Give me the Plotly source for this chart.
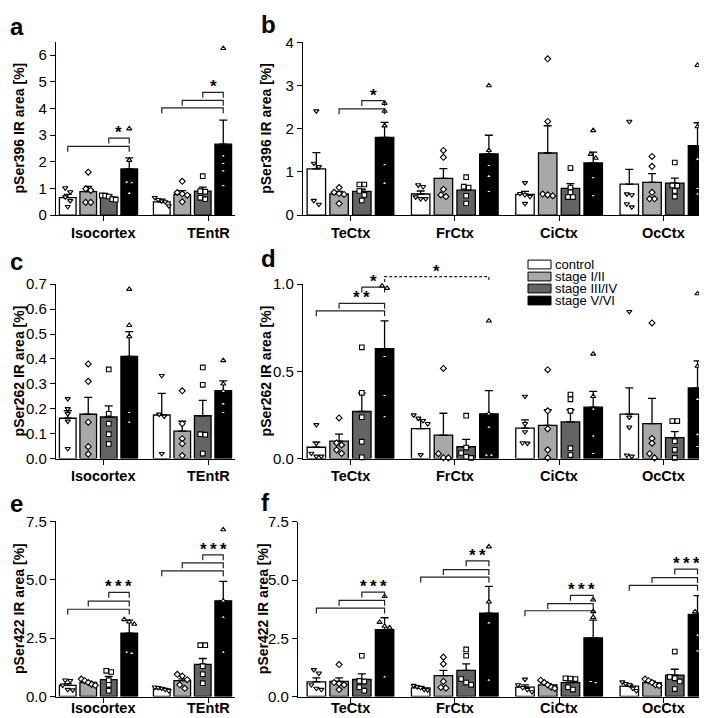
import plotly.graph_objects as go

W, H = 707, 718
FONT = "Liberation Sans, Arial, Helvetica, sans-serif"

# ---------------- data ----------------
SERIES = ["control", "stage I/II", "stage III/IV", "stage V/VI"]
LEFT_GROUPS = ["Isocortex", "TEntR"]
RIGHT_GROUPS = ["TeCtx", "FrCtx", "CiCtx", "OcCtx"]

# panel a: pSer396, Isocortex / TEntR   (rows = series, cols = groups)
A_MEAN = [[0.66, 0.50], [0.88, 0.78], [0.68, 0.90], [1.73, 2.66]]
A_SEM = [[0.12, 0.10], [0.20, 0.14], [0.08, 0.15], [0.42, 0.90]]
A_PTS = [
    [[1.02, 0.87, 0.68, 0.54, 0.32], [0.66, 0.58, 0.53, 0.50, 0.35]],
    [[1.61, 0.99, 0.93, 0.48, 0.48], [1.27, 0.85, 0.80, 0.75, 0.50]],
    [[0.74, 0.73, 0.70, 0.60, 0.58], [1.46, 0.90, 0.88, 0.65, 0.60]],
    [[3.24, 2.06, 1.24, 1.22, 0.82], [6.25, 2.22, 1.94, 1.66, 1.11]],
]
# brackets: (group_from, series_from, group_to, series_to, level, label, dashed)
A_BR = [(0, 0, 0, 3, 2.58, "", False), (0, 2, 0, 3, 2.89, "*", False),
        (1, 0, 1, 3, 4.02, "", False), (1, 1, 1, 3, 4.30, "", False),
        (1, 2, 1, 3, 4.60, "*", False)]

# panel b: pSer396, cortical regions
B_MEAN = [[1.07, 0.49, 0.48, 0.72], [0.49, 0.85, 1.44, 0.76],
          [0.55, 0.58, 0.62, 0.74], [1.80, 1.42, 1.21, 1.61]]
B_SEM = [[0.38, 0.07, 0.07, 0.34], [0.06, 0.23, 0.63, 0.20],
         [0.05, 0.10, 0.11, 0.12], [0.35, 0.43, 0.25, 0.53]]
B_PTS = [
    [[2.41, 1.20, 1.12, 0.34, 0.25], [0.70, 0.66, 0.42, 0.38, 0.38],
     [0.75, 0.50, 0.47, 0.43, 0.27], [2.17, 0.49, 0.47, 0.26, 0.19]],
    [[0.64, 0.53, 0.50, 0.48, 0.27], [1.50, 1.34, 0.60, 0.47, 0.43],
     [3.62, 2.17, 0.49, 0.47, 0.45], [1.36, 1.13, 0.53, 0.38, 0.38]],
    [[0.71, 0.71, 0.56, 0.47, 0.34], [0.88, 0.66, 0.64, 0.45, 0.27],
     [1.09, 0.64, 0.53, 0.42, 0.42], [1.22, 0.69, 0.68, 0.56, 0.43]],
    [[2.59, 2.41, 2.07, 1.17, 0.74], [3.00, 1.50, 1.15, 0.90, 0.55],
     [1.96, 1.41, 1.32, 0.87, 0.45], [3.47, 2.05, 1.30, 0.62, 0.49]],
]
B_BR = [(0, 1, 0, 3, 2.46, "", False), (0, 2, 0, 3, 2.65, "*", False)]

# panel c: pSer262, Isocortex / TEntR
C_MEAN = [[0.162, 0.175], [0.178, 0.110], [0.167, 0.172], [0.410, 0.273]]
C_SEM = [[0.030, 0.087], [0.068, 0.040], [0.045, 0.062], [0.100, 0.039]]
C_PTS = [
    [[0.24, 0.20, 0.18, 0.15, 0.04], [0.333, 0.178, 0.17, 0.02]],
    [[0.38, 0.31, 0.146, 0.048, 0.018], [0.272, 0.14, 0.08, 0.06, 0.012]],
    [[0.358, 0.18, 0.14, 0.098, 0.059], [0.366, 0.296, 0.098, 0.096, 0.02]],
    [[0.68, 0.535, 0.49, 0.185, 0.146], [0.394, 0.30, 0.27, 0.22, 0.185]],
]
C_BR = []

# panel d: pSer262, cortical regions
D_MEAN = [[0.065, 0.172, 0.175, 0.255], [0.100, 0.135, 0.190, 0.200],
          [0.270, 0.068, 0.210, 0.120], [0.630, 0.257, 0.295, 0.405]]
D_SEM = [[0.030, 0.050, 0.047, 0.150], [0.040, 0.125, 0.090, 0.145],
         [0.105, 0.042, 0.070, 0.035], [0.160, 0.133, 0.090, 0.155]]
D_PTS = [
    [[0.194, 0.088, 0.03, 0.013, 0.013], [0.25, 0.231, 0.218, 0.20, 0.022],
     [0.357, 0.20, 0.153, 0.09, 0.088], [0.843, 0.237, 0.18, 0.02, 0.013]],
    [[0.233, 0.09, 0.078, 0.05, 0.03], [0.517, 0.028, 0.005, 0.004],
     [0.51, 0.274, 0.17, 0.05, 0.004], [0.778, 0.115, 0.088, 0.028, 0.004]],
    [[0.638, 0.377, 0.237, 0.097, 0.007], [0.246, 0.063, 0.032, 0.01, 0.004],
     [0.367, 0.34, 0.274, 0.06, 0.02], [0.215, 0.215, 0.10, 0.05, 0.004]],
    [[0.99, 0.977, 0.586, 0.362, 0.24], [0.79, 0.256, 0.18, 0.02, 0.02],
     [0.60, 0.357, 0.283, 0.13, 0.03], [0.946, 0.53, 0.34, 0.138, 0.07]],
]
D_BR = [(0, 0, 0, 3, 0.847, "", False), (0, 1, 0, 3, 0.890, "**", False),
        (0, 2, 0, 3, 0.983, "*", False), (0, 3, 1, 3, 1.043, "*", True)]

# panel e: pSer422, Isocortex / TEntR
E_MEAN = [[0.48, 0.33], [0.60, 0.68], [0.72, 1.38], [2.72, 4.10]]
E_SEM = [[0.07, 0.04], [0.06, 0.08], [0.14, 0.25], [0.55, 0.83]]
E_PTS = [
    [[0.70, 0.68, 0.48, 0.30, 0.28], [0.40, 0.38, 0.35, 0.30, 0.25]],
    [[0.75, 0.68, 0.60, 0.52, 0.48], [0.95, 0.88, 0.72, 0.50, 0.35]],
    [[1.10, 1.05, 0.70, 0.50, 0.25], [2.20, 2.20, 1.30, 0.95, 0.57]],
    [[3.30, 3.20, 3.10, 1.90, 1.85], [7.15, 4.10, 3.40, 1.90]],
]
E_BR = [(0, 0, 0, 3, 3.74, "", False), (0, 1, 0, 3, 4.09, "", False),
        (0, 2, 0, 3, 4.46, "***", False),
        (1, 0, 1, 3, 5.38, "", False), (1, 1, 1, 3, 5.73, "", False),
        (1, 2, 1, 3, 6.07, "***", False)]

# panel f: pSer422, cortical regions
F_MEAN = [[0.63, 0.37, 0.40, 0.45], [0.65, 0.90, 0.50, 0.60],
          [0.73, 1.12, 0.60, 0.92], [2.87, 3.58, 2.52, 3.52]]
F_SEM = [[0.17, 0.06, 0.10, 0.07], [0.15, 0.22, 0.05, 0.06],
         [0.24, 0.28, 0.07, 0.25], [0.51, 1.15, 0.76, 0.81]]
F_PTS = [
    [[1.15, 1.00, 0.50, 0.35, 0.30], [0.47, 0.42, 0.38, 0.30, 0.28],
     [0.74, 0.50, 0.38, 0.30, 0.20], [0.62, 0.55, 0.50, 0.35, 0.25]],
    [[1.37, 0.60, 0.55, 0.50, 0.30], [1.69, 1.40, 0.65, 0.39, 0.36],
     [0.70, 0.60, 0.50, 0.40, 0.35], [0.75, 0.68, 0.60, 0.50, 0.47]],
    [[1.75, 0.67, 0.64, 0.40, 0.25], [2.02, 1.75, 0.75, 0.60, 0.50],
     [0.78, 0.77, 0.75, 0.40, 0.30], [1.93, 0.84, 0.78, 0.65, 0.32]],
    [[4.30, 3.19, 3.02, 2.95, 0.84], [6.43, 4.06, 3.16, 0.70],
     [4.15, 3.65, 3.40, 0.65, 0.60], [3.64, 3.55, 2.63, 1.96]],
]
F_BR = [(0, 0, 0, 3, 3.79, "", False), (0, 1, 0, 3, 4.13, "", False),
        (0, 2, 0, 3, 4.48, "***", False),
        (1, 0, 1, 3, 5.12, "", False), (1, 1, 1, 3, 5.45, "", False),
        (1, 2, 1, 3, 5.82, "**", False),
        (2, 0, 2, 3, 3.68, "", False), (2, 1, 2, 3, 3.99, "", False),
        (2, 2, 2, 3, 4.34, "***", False),
        (3, 0, 3, 3, 4.77, "", False), (3, 1, 3, 3, 5.10, "", False),
        (3, 2, 3, 3, 5.47, "***", False)]

Y_TITLES = ["pSer396 IR area [%]", "pSer262 IR area [%]", "pSer422 IR area [%]"]

# ---------------- styles ----------------
FILLS = ["#ffffff", "#a8a8a8", "#646464", "#000000"]
SYMBOLS = ["triangle-down", "diamond", "square", "triangle-up"]
SLOT = 0.218
BAR_W = 0.177
LEFT_TICK_SHIFT = [0.053, 0.165]
LINE_W = 1.3

PANELS = [
    dict(letter="a", groups=LEFT_GROUPS, mean=A_MEAN, sem=A_SEM, pts=A_PTS, br=A_BR,
         title=Y_TITLES[0], px=(48, 227, 25.3, 203), xr=(-0.452, 1.452), ymax=6.5,
         dtick=1, fmt="d", tx=11, lx=0, ly=20, lab_dy=8),
    dict(letter="b", groups=RIGHT_GROUPS, mean=B_MEAN, sem=B_SEM, pts=B_PTS, br=B_BR,
         title=Y_TITLES[0], px=(295, 706, 26, 203), xr=(-0.455, 3.485), ymax=4,
         dtick=1, fmt="d", tx=258, lx=251, ly=18, lab_dy=8),
    dict(letter="c", groups=LEFT_GROUPS, mean=C_MEAN, sem=C_SEM, pts=C_PTS, br=C_BR,
         title=Y_TITLES[1], px=(48, 227, 273.7, 452.3), xr=(-0.452, 1.452), ymax=0.7,
         dtick=0.1, fmt=".1f", tx=11, lx=0, ly=260, lab_dy=8),
    dict(letter="d", groups=RIGHT_GROUPS, mean=D_MEAN, sem=D_SEM, pts=D_PTS, br=D_BR,
         title=Y_TITLES[1], px=(295, 706, 273.7, 452.3), xr=(-0.455, 3.485), ymax=1.0,
         dtick=0.5, fmt=".1f", tx=258, lx=251, ly=257, lab_dy=8),
    dict(letter="e", groups=LEFT_GROUPS, mean=E_MEAN, sem=E_SEM, pts=E_PTS, br=E_BR,
         title=Y_TITLES[2], px=(48, 227, 516.7, 696), xr=(-0.452, 1.452), ymax=7.5,
         dtick=2.5, fmt=".1f", tx=11, lx=0, ly=508, lab_dy=None),
    dict(letter="f", groups=RIGHT_GROUPS, mean=F_MEAN, sem=F_SEM, pts=F_PTS, br=F_BR,
         title=Y_TITLES[2], px=(290, 706, 517, 696), xr=(-0.503, 3.485), ymax=7.5,
         dtick=2.5, fmt=".1f", tx=255, lx=251, ly=507, lab_dy=None),
]


def spread(values, px_per_y, px_per_x, min_sep=4.5, step_px=5.0, max_span=14.0):
    order = sorted(range(len(values)), key=lambda j: -values[j])
    clusters, cur = [], [order[0]]
    for j in order[1:]:
        if (values[cur[-1]] - values[j]) * px_per_y < min_sep:
            cur.append(j)
        else:
            clusters.append(cur)
            cur = [j]
    clusters.append(cur)
    offs = [0.0] * len(values)
    for c in clusters:
        k = len(c)
        step = min(step_px, max_span / (k - 1)) if k > 1 else 0
        for n, j in enumerate(c):
            offs[j] = (n - (k - 1) / 2) * step / px_per_x
    return offs


fig = go.Figure()
layout = dict(width=W, height=H, margin=dict(l=0, r=0, t=0, b=0),
              paper_bgcolor="white", plot_bgcolor="white", showlegend=False,
              barmode="overlay", font=dict(family=FONT, color="black"))
shapes, annotations = [], []

for k, P in enumerate(PANELS):
    i = k + 1
    xa, ya = ("x", "y") if i == 1 else (f"x{i}", f"y{i}")
    x0, x1, yt, yb = P["px"]
    xr0, xr1 = P["xr"]
    ppx = (x1 - x0) / (xr1 - xr0)
    ppy = (yb - yt) / P["ymax"]
    ng = len(P["groups"])

    def cx(g, s):
        return g + (s - 1.5) * SLOT

    for s in range(4):
        fig.add_trace(go.Bar(
            x=[cx(g, s) for g in range(ng)], y=P["mean"][s], width=BAR_W,
            xaxis=xa, yaxis=ya, name=SERIES[s],
            marker=dict(color=FILLS[s], line=dict(color="black", width=LINE_W)),
            error_y=dict(type="data", symmetric=False, array=P["sem"][s],
                         arrayminus=[0] * ng, color="black", thickness=LINE_W, width=4),
        ))
    for s in range(4):
        xs, ys = [], []
        for g in range(ng):
            vals = P["pts"][s][g]
            offs = spread(vals, ppy, ppx)
            xs += [cx(g, s) + o for o in offs]
            ys += vals
        fig.add_trace(go.Scatter(
            x=xs, y=ys, mode="markers", xaxis=xa, yaxis=ya, cliponaxis=False,
            marker=dict(symbol=SYMBOLS[s], size=4.6, color="white",
                        line=dict(color="black", width=1.1)),
        ))

    if ng == 2:
        tickvals = [g + LEFT_TICK_SHIFT[g] for g in range(ng)]
    else:
        tickvals = list(range(ng))
    layout["xaxis" if i == 1 else f"xaxis{i}"] = dict(
        domain=[x0 / W, x1 / W], range=[xr0, xr1], anchor=ya,
        showline=True, linecolor="black", linewidth=LINE_W,
        ticks="outside", ticklen=5, tickwidth=LINE_W, tickcolor="black",
        tickvals=tickvals, showticklabels=False, showgrid=False, zeroline=False,
        fixedrange=True)
    layout["yaxis" if i == 1 else f"yaxis{i}"] = dict(
        domain=[1 - yb / H, 1 - yt / H], range=[0, P["ymax"]], anchor=xa,
        showline=True, linecolor="black", linewidth=LINE_W,
        ticks="outside", ticklen=5, tickwidth=LINE_W, tickcolor="black",
        dtick=P["dtick"], tick0=0, tickformat=P["fmt"],
        tickfont=dict(size=15, family=FONT), showgrid=False, zeroline=False,
        fixedrange=True)

    # category labels
    for g, name in enumerate(P["groups"]):
        if P["lab_dy"] is None:
            annotations.append(dict(
                xref=xa, yref="paper", x=tickvals[g], y=0, text=f"<b>{name}</b>",
                showarrow=False, xanchor="center", yanchor="bottom",
                font=dict(size=14.5, family=FONT)))
        else:
            annotations.append(dict(
                xref=xa, yref="paper", x=tickvals[g], y=1 - (yb + P["lab_dy"]) / H,
                text=f"<b>{name}</b>", showarrow=False, xanchor="center",
                yanchor="top", font=dict(size=14.5, family=FONT)))

    # axis title
    annotations.append(dict(
        xref="paper", yref="paper", x=P["tx"] / W, y=1 - (yt + yb) / 2 / H,
        text=f"<b>{P['title']}</b>", textangle=-90, showarrow=False,
        font=dict(size=14, family=FONT), xanchor="center", yanchor="middle"))
    # panel letter
    annotations.append(dict(
        xref="paper", yref="paper", x=P["lx"] / W, y=1 - (P["ly"] + 6) / H,
        text=f"<b>{P['letter']}</b>", showarrow=False,
        font=dict(size=24, family=FONT), xanchor="left", yanchor="bottom"))

    # significance brackets
    tick = 5.5 / (yb - yt)
    for (g0, s0, g1, s1, lev, lab, dashed) in P["br"]:
        xa0, xa1 = cx(g0, s0), cx(g1, s1)
        yl = lev / P["ymax"]
        path = f"M {xa0},{yl - tick} L {xa0},{yl} L {xa1},{yl} L {xa1},{yl - tick}"
        shapes.append(dict(
            type="path", path=path, xref=xa, yref=f"{ya} domain",
            line=dict(color="#222222", width=1.2, dash="3px,2px" if dashed else "solid")))
        if lab:
            annotations.append(dict(
                xref=xa, yref=f"{ya} domain", x=(xa0 + xa1) / 2, y=yl,
                text="<b>" + "\u2009".join(lab) + "</b>", showarrow=False,
                font=dict(size=17, family=FONT), xanchor="center", yanchor="bottom",
                yshift=-6))

# legend (drawn inside panel d)
LEG_X, LEG_Y, LEG_DY = 520, 253.5, 12.3
for s, name in enumerate(SERIES):
    yc = LEG_Y + s * LEG_DY
    shapes.append(dict(type="rect", xref="paper", yref="paper",
                       x0=LEG_X / W, x1=(LEG_X + 23) / W,
                       y0=1 - (yc + 4.5) / H, y1=1 - (yc - 4.5) / H,
                       fillcolor=FILLS[s], line=dict(color="black", width=1)))
    annotations.append(dict(xref="paper", yref="paper", x=(LEG_X + 25) / W,
                            y=1 - yc / H, text=name, showarrow=False,
                            xanchor="left", yanchor="middle",
                            font=dict(size=13, family=FONT)))

layout["shapes"] = shapes
layout["annotations"] = annotations
fig.update_layout(**layout)
fig.write_html("out.html")
